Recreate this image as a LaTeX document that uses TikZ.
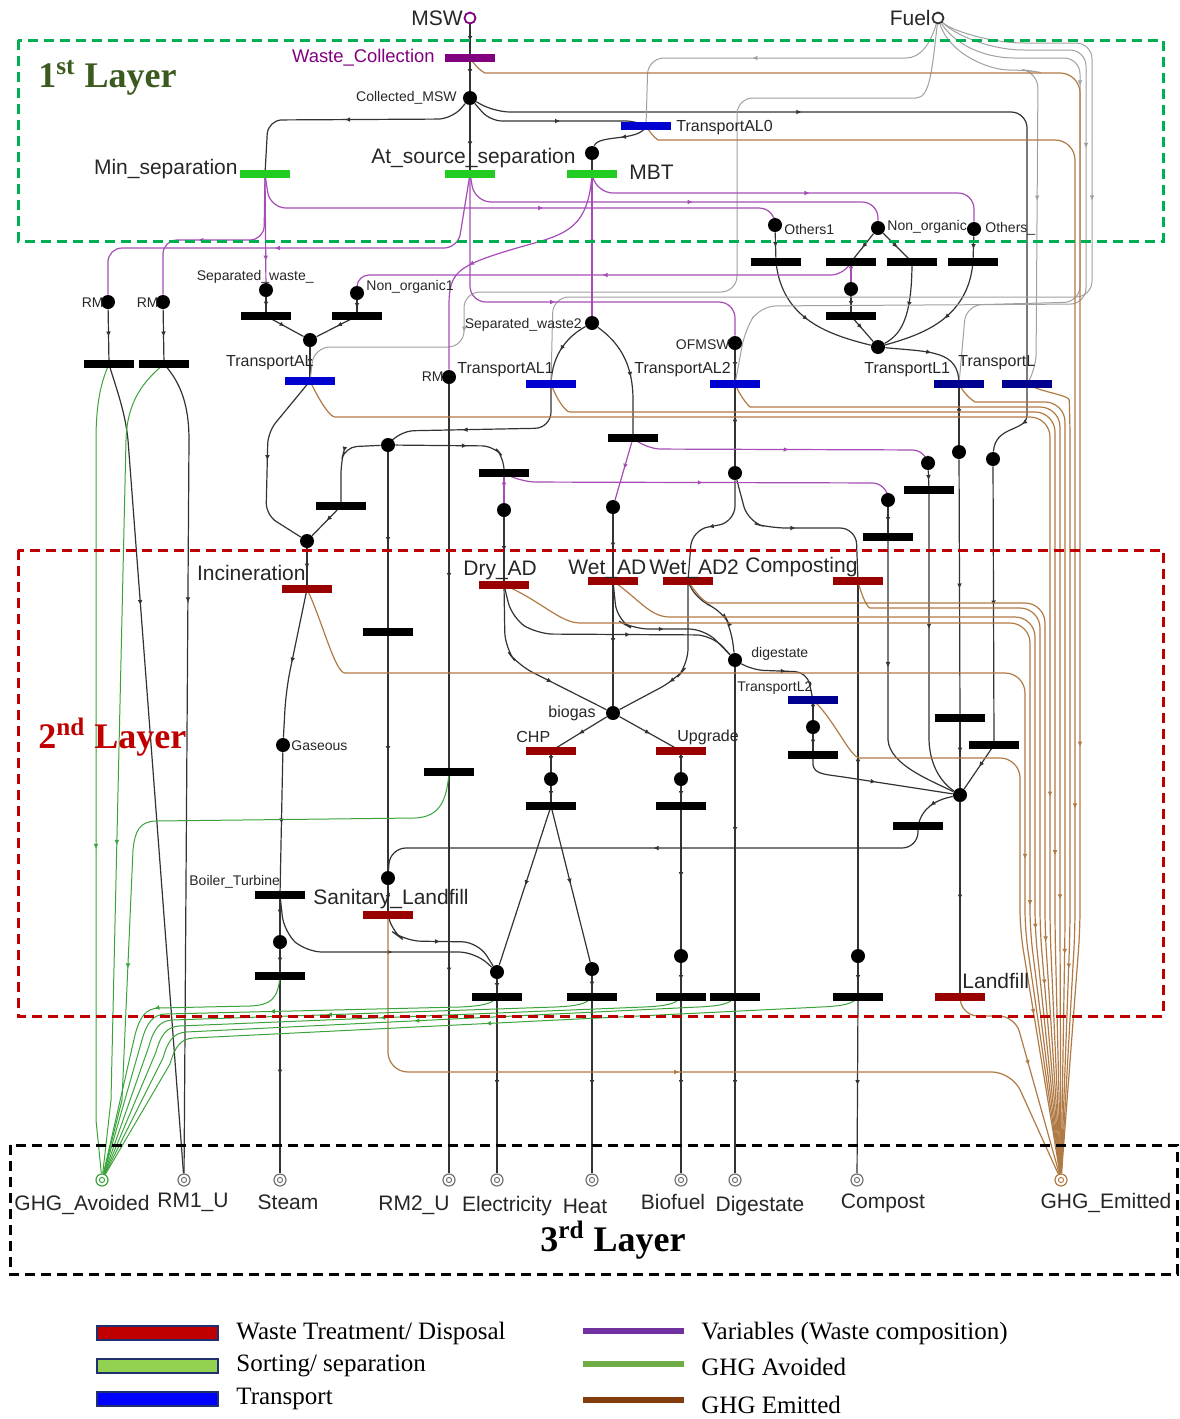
\documentclass[tikz,border=0pt]{standalone}
\usepackage{fontspec}
\setmainfont{Liberation Serif}
\setsansfont{Liberation Sans}
\usetikzlibrary{arrows.meta,decorations.markings,backgrounds}

\definecolor{pnblack}{HTML}{333333}
\definecolor{pnpurple}{HTML}{A54DB5}
\definecolor{wcpurple}{HTML}{800080}
\definecolor{sepgreen}{HTML}{22CC22}
\definecolor{trblue}{HTML}{0000D0}
\definecolor{trnavy}{HTML}{000090}
\definecolor{treat}{HTML}{990000}
\definecolor{fuelgray}{HTML}{A0A0A0}
\definecolor{emit}{HTML}{B07A45}
\definecolor{avoid}{HTML}{3BA33B}
\definecolor{sinkgray}{HTML}{707070}
\definecolor{boxgreen}{HTML}{00B050}
\definecolor{boxred}{HTML}{C00000}
\definecolor{layergreen}{HTML}{3A5A1E}
\definecolor{legred}{HTML}{C00000}
\definecolor{legborder}{HTML}{1F2F6F}
\definecolor{leggreen}{HTML}{92D050}
\definecolor{legblue}{HTML}{0000FF}
\definecolor{legpurple}{HTML}{7030A0}
\definecolor{legline}{HTML}{70AD47}
\definecolor{legbrown}{HTML}{843C0C}

\tikzset{
  place/.style={circle, fill=black, inner sep=0pt, minimum size=7pt},
  bar/.style={rectangle, fill=#1, inner sep=0pt, minimum width=25pt, minimum height=3.6pt},
  bar/.default=black,
  src/.style={circle, draw=#1, fill=white, line width=0.9pt, inner sep=0pt, minimum size=5.5pt},
  sink/.style={circle, draw=#1, line width=0.6pt, inner sep=0pt, minimum size=6pt,
    path picture={\draw[#1,line width=0.5pt] (path picture bounding box.center) circle (1.3pt);}},
  mk/.style={postaction={decorate,decoration={markings,
    mark=at position #1 with {\arrow{Latex[length=2.6pt,width=2.4pt]}}}}},
  mk/.default=0.5,
  bk/.style={draw=pnblack, line width=0.6pt},
  pu/.style={draw=pnpurple, line width=0.6pt},
  gy/.style={draw=fuelgray, line width=0.5pt},
  br/.style={draw=emit, line width=0.6pt},
  gr/.style={draw=avoid, line width=0.5pt},
  lS/.style={font=\sffamily\fontsize{7}{8}\selectfont, inner sep=0pt, text=black!85},
  lM/.style={font=\sffamily\fontsize{8}{9}\selectfont, inner sep=0pt, text=black!85},
  lL/.style={font=\sffamily\fontsize{10.5}{12}\selectfont, inner sep=0pt, text=black!85},
  layerbox/.style={line width=1.5pt, dash pattern=on 5pt off 3pt},
  layertxt/.style={font=\rmfamily\bfseries\fontsize{18}{20}\selectfont, inner sep=0pt},
  legtxt/.style={font=\rmfamily\fontsize{12.5}{14}\selectfont, inner sep=0pt, anchor=west}
}

\begin{document}
\begin{tikzpicture}[x=0.5pt,y=-0.5pt]
\useasboundingbox (0,0) rectangle (1179,1419);

% ---------- sources ----------
\node[src=wcpurple] (msw) at (470,18) {};
\node[src=pnblack] (fuel) at (938,18) {};

% ---------- first layer ----------
\node[bar=wcpurple] (wc) at (470,58) {};
\node[place] (cmsw) at (470,98) {};
\node[bar=trblue] (tal0) at (646,126) {};
\node[place] (pmbt) at (592,153) {};
\node[bar=sepgreen] (minsep) at (265,174) {};
\node[bar=sepgreen] (atsrc) at (470,174) {};
\node[bar=sepgreen] (mbt) at (592,174) {};
\node[place] (oth1) at (775,225) {};
\node[place] (nonorg) at (878,228) {};
\node[place] (oths) at (974,229) {};

% ---------- between first and second layer ----------
\node[bar] (t1) at (776,262) {};
\node[bar] (t2) at (851,262) {};
\node[bar] (t3) at (912,262) {};
\node[bar] (t4) at (973,262) {};
\node[place] (p5) at (851,289) {};
\node[bar] (t5) at (851,316) {};
\node[place] (rma) at (108,302) {};
\node[place] (rmb) at (163,302) {};
\node[place] (sepw) at (266,290) {};
\node[place] (nonorg1) at (357,293) {};
\node[bar] (t6) at (266,316) {};
\node[bar] (t7) at (357,316) {};
\node[place] (sepw2) at (592,323) {};
\node[place] (ofmsw) at (735,343) {};
\node[place] (jal) at (310,340) {};
\node[bar=trblue] (tal) at (310,381) {};
\node[place] (rmc) at (449,377) {};
\node[bar=trblue] (tal1) at (551,384) {};
\node[bar=trblue] (tal2) at (735,384) {};
\node[place] (jl1) at (878,347) {};
\node[bar=trnavy] (tl1) at (959,384) {};
\node[bar=trnavy] (tl) at (1027,384) {};
\node[bar] (rmta) at (109,364) {};
\node[bar] (rmtb) at (164,364) {};
\node[place] (p388) at (388,445) {};
\node[bar] (t341) at (341,506) {};
\node[bar] (t504) at (504,473) {};
\node[bar] (t633) at (633,438) {};
\node[place] (p735) at (735,473) {};
\node[place] (p928) at (928,463) {};
\node[place] (p959) at (959,452) {};
\node[place] (p993) at (993,459) {};
\node[bar] (t929) at (929,490) {};
\node[place] (p504) at (504,510) {};
\node[place] (p613) at (613,507) {};
\node[place] (p888) at (888,500) {};
\node[bar] (t888) at (888,537) {};
\node[place] (pinc) at (307,541) {};

% ---------- second layer ----------
\node[bar] (t388) at (388,632) {};
\node[bar=treat] (inc) at (307,589) {};
\node[bar=treat] (dry) at (504,585) {};
\node[bar=treat] (wet) at (613,581) {};
\node[bar=treat] (wet2) at (688,581) {};
\node[bar=treat] (comp) at (858,581) {};
\node[place] (dig) at (735,660) {};
\node[bar=trnavy] (tl2) at (813,700) {};
\node[place] (bio) at (613,713) {};
\node[bar=treat] (chp) at (551,751) {};
\node[bar=treat] (upg) at (681,751) {};
\node[place] (pchp) at (551,779) {};
\node[place] (pupg) at (681,779) {};
\node[bar] (tchp) at (551,806) {};
\node[bar] (tupg) at (681,806) {};
\node[place] (pl2) at (813,727) {};
\node[bar] (tpl2) at (813,755) {};
\node[bar] (t960) at (960,718) {};
\node[bar] (t994) at (994,745) {};
\node[place] (jlf) at (960,795) {};
\node[bar] (t918) at (918,826) {};
\node[place] (gas) at (283,745) {};
\node[bar] (t449) at (449,772) {};
\node[place] (psl) at (388,878) {};
\node[bar] (boil) at (280,895) {};
\node[bar=treat] (sl) at (388,915) {};
\node[place] (pst) at (280,942) {};
\node[bar] (tst) at (280,976) {};
\node[place] (pel) at (497,972) {};
\node[place] (pht) at (592,969) {};
\node[place] (pbf) at (681,956) {};
\node[place] (pcp) at (858,956) {};
\node[bar] (tel) at (497,997) {};
\node[bar] (tht) at (592,997) {};
\node[bar] (tbf) at (681,997) {};
\node[bar] (tdg) at (735,997) {};
\node[bar] (tcp) at (858,997) {};
\node[bar=treat] (lf) at (960,997) {};

% ---------- third layer (sinks) ----------
\node[sink=avoid] (ghga) at (102,1180) {};
\node[sink=sinkgray] (rm1u) at (184,1180) {};
\node[sink=sinkgray] (steam) at (280,1180) {};
\node[sink=sinkgray] (rm2u) at (449,1180) {};
\node[sink=sinkgray] (elec) at (497,1180) {};
\node[sink=sinkgray] (heat) at (592,1180) {};
\node[sink=sinkgray] (biof) at (681,1180) {};
\node[sink=sinkgray] (dgs) at (735,1180) {};
\node[sink=sinkgray] (cmp) at (857,1180) {};
\node[sink=emit] (ghge) at (1061,1180) {};

\begin{scope}[on background layer]
% ----- material flows -----
\draw[bk,mk] (msw) -- (wc.center);
\draw[bk,mk] (wc.center) -- (cmsw);
\draw[bk,mk=0.6] (cmsw) -- (atsrc.center);
\draw[bk,mk,rounded corners=7pt] (cmsw) -- (452,119) -- (268,120) -- (minsep.center);
\draw[bk,mk,rounded corners=6pt] (cmsw) -- (490,121) -- (638,121) -- (tal0.center);
\draw[bk,mk=0.4,rounded corners=8pt] (cmsw) -- (494,112) -- (1027,112) -- (tl.center);
\draw[bk,mk] (tal0.center) .. controls (640,142) and (598,134) .. (pmbt);
\draw[bk] (pmbt) -- (mbt.center);
\draw[bk,mk] (oth1) -- (t1.center);
\draw[bk,mk] (nonorg) -- (t2.center);
\draw[bk,mk] (nonorg) -- (t3.center);
\draw[bk,mk] (oths) -- (t4.center);
\draw[bk,mk] (p5) -- (t5.center);
\draw[bk,mk] (t1.center) .. controls (782,320) and (830,335) .. (jl1);
\draw[bk,mk] (t5.center) -- (jl1);
\draw[bk,mk] (t3.center) .. controls (912,320) and (900,335) .. (jl1);
\draw[bk,mk] (t4.center) .. controls (968,320) and (920,335) .. (jl1);
\draw[bk,mk] (jl1) .. controls (930,352) and (959,350) .. (tl1.center);
\draw[bk,mk] (tl1.center) -- (p959);
\draw[bk,mk] (p959) -- (t960.center);
\draw[bk,mk] (t960.center) -- (jlf);
\draw[bk,mk] (jlf) -- (lf.center);
\draw[bk,mk] (tl.center) -- (1027,415) .. controls (1027,432) and (995,425) .. (p993);
\draw[bk,mk] (p993) -- (t994.center);
\draw[bk,mk] (t994.center) -- (jlf);
\draw[bk,mk] (p928) -- (t929.center);
\draw[bk,mk=0.45] (t929.center) -- (929,740) .. controls (930,770) and (945,785) .. (jlf);
\draw[bk,mk] (p888) -- (t888.center);
\draw[bk,mk=0.45] (t888.center) -- (888,740) .. controls (890,765) and (930,780) .. (jlf);
\draw[bk,mk] (pl2) -- (tpl2.center);
\draw[bk,mk] (tpl2.center) -- (813,765) .. controls (815,775) and (825,774) .. (850,778) -- (jlf);
\draw[bk,mk] (jlf) .. controls (935,800) and (922,808) .. (t918.center);
\draw[bk,mk,rounded corners=8pt] (t918.center) -- (918,848) -- (390,848) -- (psl);

\draw[bk,mk] (sepw) -- (t6.center);
\draw[bk,mk] (nonorg1) -- (t7.center);
\draw[bk,mk] (t6.center) -- (jal);
\draw[bk,mk] (t7.center) -- (jal);
\draw[bk,mk] (jal) -- (tal.center);
\draw[bk,mk,rounded corners=6pt] (tal.center) -- (268,432) -- (266,515) -- (pinc);
\draw[bk,mk,rounded corners=6pt] (p388) -- (345,447) -- (341,462) -- (t341.center);
\draw[bk,mk] (t341.center) -- (pinc);
\draw[bk,mk] (pinc) -- (inc.center);
\draw[bk,mk,rounded corners=10pt] (inc.center) -- (286,690) -- (gas);
\draw[bk,mk] (gas) -- (boil.center);
\draw[bk,mk] (boil.center) -- (pst);
\draw[bk,mk] (pst) -- (tst.center);
\draw[bk,mk] (tst.center) -- (steam);
\draw[bk,mk=0.6,rounded corners=8pt] (boil.center) -- (284,932) -- (306,952) -- (475,952) -- (pel);
\draw[bk,mk=0.6,rounded corners=8pt] (sl.center) -- (390,930) -- (405,941) -- (478,942) -- (pel);
\draw[bk,mk] (psl) -- (sl.center);
\draw[bk,mk] (p388) -- (t388.center);
\draw[bk,mk] (t388.center) -- (psl);
\draw[bk,mk,rounded corners=6pt] (p388) -- (494,446) -- (504,458) -- (t504.center);
\draw[bk,mk=0.6,rounded corners=8pt] (tal1.center) -- (551,428) -- (398,431) -- (p388);
\draw[bk,mk] (sepw2) .. controls (570,335) and (552,352) .. (tal1.center);
\draw[bk,mk] (sepw2) .. controls (618,342) and (633,362) .. (633,400) -- (t633.center);
\draw[bk,mk] (ofmsw) -- (tal2.center);
\draw[bk,mk] (tal2.center) -- (p735);
\draw[bk,mk,rounded corners=8pt] (p735) -- (735,522) -- (692,530) -- (wet2.center);
\draw[bk,mk,rounded corners=8pt] (p735) -- (748,522) -- (770,528) -- (856,528) -- (comp.center);
\draw[bk,mk] (p504) -- (dry.center);
\draw[bk,mk] (p613) -- (wet.center);
\draw[bk,mk=0.7,rounded corners=8pt] (dry.center) -- (505,648) -- (518,665) -- (bio);
\draw[bk,mk] (wet.center) -- (bio);
\draw[bk,mk=0.7,rounded corners=8pt] (wet2.center) -- (688,665) -- (675,680) -- (bio);
\draw[bk,mk=0.6,rounded corners=8pt] (dry.center) -- (512,618) -- (537,634) -- (712,635) -- (dig);
\draw[bk,mk=0.6,rounded corners=8pt] (wet.center) -- (617,620) -- (633,629) -- (705,629) -- (dig);
\draw[bk,mk=0.6,rounded corners=8pt] (wet2.center) -- (696,600) -- (722,610) -- (731,628) -- (dig);
\draw[bk,mk,rounded corners=6pt] (dig) -- (752,670) -- (807,672) -- (tl2.center);
\draw[bk,mk] (tl2.center) -- (pl2);
\draw[bk,mk] (dig) -- (tdg.center);
\draw[bk,mk] (bio) -- (chp.center);
\draw[bk,mk] (bio) -- (upg.center);
\draw[bk,mk] (chp.center) -- (pchp);
\draw[bk,mk] (pchp) -- (tchp.center);
\draw[bk,mk] (upg.center) -- (pupg);
\draw[bk,mk] (pupg) -- (tupg.center);
\draw[bk,mk] (tupg.center) -- (pbf);
\draw[bk,mk] (pbf) -- (tbf.center);
\draw[bk,mk] (tchp.center) -- (pel);
\draw[bk,mk] (tchp.center) -- (pht);
\draw[bk,mk] (pel) -- (tel.center);
\draw[bk,mk] (pht) -- (tht.center);
\draw[bk,mk] (comp.center) -- (pcp);
\draw[bk,mk] (pcp) -- (tcp.center);
\draw[bk,mk] (rmc) -- (t449.center);
\draw[bk,mk] (t449.center) -- (rm2u);
\draw[bk,mk] (tel.center) -- (elec);
\draw[bk,mk] (tht.center) -- (heat);
\draw[bk,mk] (tbf.center) -- (biof);
\draw[bk,mk] (tdg.center) -- (dgs);
\draw[bk,mk] (tcp.center) -- (cmp);
\draw[bk,mk] (rma) -- (rmta.center);
\draw[bk,mk] (rmb) -- (rmtb.center);
\draw[bk,mk=0.3] (rmta.center) .. controls (115,385) and (125,410) .. (128,440) -- (rm1u);
\draw[bk,mk=0.3] (rmtb.center) .. controls (178,380) and (189,400) .. (189,440) -- (rm1u);

% ----- fuel supply to the transport steps -----
\draw[gy,mk=0.55,rounded corners=8pt] (fuel) .. controls (930,45) and (920,58) .. (890,58) -- (648,58) -- (tal0.center);
\draw[gy,mk=0.8,rounded corners=8pt] (fuel) .. controls (932,70) and (930,98) .. (900,98) -- (737,98) -- (737,292) -- (464,292) -- (464,347) -- (314,347) -- (tal.center);
\draw[gy,mk=0.3,rounded corners=8pt] (fuel) .. controls (950,30) and (990,43) .. (1040,43) -- (1092,43) -- (1092,297) -- (553,297) -- (tal1.center);
\draw[gy,mk=0.3,rounded corners=8pt] (fuel) .. controls (955,35) and (990,50) .. (1040,50) -- (1086,50) -- (1086,304) -- (760,306) -- (745,330) -- (tal2.center);
\draw[gy,mk=0.3,rounded corners=8pt] (fuel) .. controls (955,45) and (985,58) .. (1030,58) -- (1080,58) -- (1080,302) -- (966,305) -- (tl1.center);
\draw[gy,mk=0.6,rounded corners=8pt] (fuel) .. controls (950,55) and (990,70) .. (1025,70) -- (1038,72) -- (1036,370) -- (tl.center);

% ----- waste composition variables -----
\draw[pu,mk=0.6,rounded corners=7pt] (minsep.center) -- (264,240) -- (163,240) -- (rmb);
\draw[pu,mk=0.55,rounded corners=7pt] (atsrc.center) -- (458,248) -- (108,248) -- (rma);
\draw[pu,mk=0.8] (minsep.center) -- (sepw);
\draw[pu,mk=0.55,rounded corners=8pt] (minsep.center) -- (270,208) -- (775,208) -- (oth1);
\draw[pu,mk=0.55,rounded corners=8pt] (atsrc.center) -- (475,202) -- (878,202) -- (nonorg);
\draw[pu,mk=0.55,rounded corners=8pt] (mbt.center) -- (597,193) -- (974,193) -- (oths);
\draw[pu,mk=0.5,rounded corners=8pt] (atsrc.center) -- (470,302) -- (735,302) -- (ofmsw);
\draw[pu,mk=0.6] (mbt.center) .. controls (588,235) and (560,235) .. (510,250) .. controls (458,266) and (449,272) .. (449,305) -- (rmc);
\draw[pu,mk=0.5] (mbt.center) -- (sepw2);
\draw[pu,mk=0.5,rounded corners=6pt] (t2.center) -- (843,275) -- (357,275) -- (nonorg1);
\draw[pu,mk] (t2.center) -- (p5);
\draw[pu,mk=0.5,rounded corners=8pt] (t633.center) -- (645,449) -- (928,450) -- (p928);
\draw[pu,mk] (t633.center) -- (p613);
\draw[pu,mk=0.5,rounded corners=8pt] (t504.center) -- (520,482) -- (888,483) -- (p888);
\draw[pu,mk] (t504.center) -- (p504);

% ----- emitted GHG -----
\draw[br,mk=0.75,rounded corners=10pt] (wc.center) .. controls (478,70) and (485,73) .. (505,73) -- (1080,73) -- (1080,930) -- (ghge);
\draw[br,mk=0.75,rounded corners=10pt] (tal0.center) .. controls (652,136) and (658,140) .. (678,140) -- (1075,140) -- (1075,930) -- (ghge);
\draw[br,mk=0.75,rounded corners=10pt] (tl.center) .. controls (1040,392) and (1069,395) .. (1070,420) -- (1070,930) -- (ghge);
\draw[br,mk=0.75,rounded corners=10pt] (tl1.center) .. controls (965,396) and (975,402) .. (995,402) -- (1065,402) -- (1065,930) -- (ghge);
\draw[br,mk=0.75,rounded corners=10pt] (tal2.center) .. controls (742,400) and (750,407) .. (770,407) -- (1060,407) -- (1060,930) -- (ghge);
\draw[br,mk=0.75,rounded corners=10pt] (tal1.center) .. controls (558,402) and (566,412) .. (590,412) -- (1055,412) -- (1055,930) -- (ghge);
\draw[br,mk=0.75,rounded corners=10pt] (tal.center) .. controls (320,402) and (330,417) .. (355,417) -- (1050,417) -- (1050,930) -- (ghge);
\draw[br,mk=0.75,rounded corners=10pt] (wet2.center) .. controls (698,596) and (705,603) .. (730,603) -- (1045,603) -- (1045,930) -- (ghge);
\draw[br,mk=0.75,rounded corners=10pt] (comp.center) .. controls (862,598) and (868,608) .. (890,608) -- (1040,608) -- (1040,930) -- (ghge);
\draw[br,mk=0.75,rounded corners=10pt] (wet.center) .. controls (640,600) and (650,617) .. (690,617) -- (1035,617) -- (1035,930) -- (ghge);
\draw[br,mk=0.75,rounded corners=10pt] (dry.center) .. controls (540,600) and (560,623) .. (600,623) -- (1030,623) -- (1030,930) -- (ghge);
\draw[br,mk=0.75,rounded corners=10pt] (inc.center) .. controls (322,620) and (335,673) .. (365,673) -- (1025,673) -- (1025,930) -- (ghge);
\draw[br,mk=0.75,rounded corners=10pt] (tl2.center) .. controls (835,720) and (850,758) .. (880,758) -- (1020,758) -- (1020,930) -- (ghge);
\draw[br,mk=0.5,rounded corners=8pt] (lf.center) -- (962,1016) -- (1015,1016) -- (ghge);
\draw[br,mk=0.5,rounded corners=10pt] (sl.center) -- (388,1072) -- (1012,1072) -- (ghge);

% ----- avoided GHG -----
\draw[gr,mk=0.6] (rmta.center) .. controls (102,380) and (96,400) .. (96,440) -- (96,1120) -- (ghga);
\draw[gr,mk=0.6] (rmtb.center) .. controls (145,380) and (127,400) .. (126,440) -- (111,1100) -- (ghga);
\draw[gr,mk=0.7] (t449.center) .. controls (447,800) and (440,817) .. (415,818) -- (155,821) .. controls (140,822) and (135,830) .. (133,850) -- (122,1100) -- (ghga);
\draw[gr,mk=0.45] (tst.center) .. controls (278,1000) and (270,1005) .. (250,1006) -- (158,1008) .. controls (146,1009) and (140,1016) .. (135,1035) -- (ghga);
\draw[gr,mk=0.45] (tel.center) .. controls (492,1004) and (482,1006) .. (460,1007) -- (165,1014) .. controls (153,1015) and (147,1022) .. (142,1040) -- (ghga);
\draw[gr,mk=0.45] (tht.center) .. controls (587,1004) and (577,1006) .. (555,1007) -- (172,1020) .. controls (160,1021) and (154,1028) .. (149,1046) -- (ghga);
\draw[gr,mk=0.45] (tbf.center) .. controls (676,1004) and (666,1006) .. (644,1007) -- (179,1026) .. controls (167,1027) and (161,1034) .. (156,1052) -- (ghga);
\draw[gr,mk=0.45] (tdg.center) .. controls (730,1004) and (720,1006) .. (698,1007) -- (186,1032) .. controls (174,1033) and (168,1040) .. (163,1058) -- (ghga);
\draw[gr,mk=0.45] (tcp.center) .. controls (853,1004) and (843,1006) .. (821,1007) -- (193,1038) .. controls (181,1039) and (175,1046) .. (170,1064) -- (ghga);
\end{scope}

% ---------- labels ----------
\node[lL,anchor=east] at (463,18) {MSW};
\node[lL,anchor=east] at (931,18) {Fuel};
\node[font=\sffamily\fontsize{9.2}{10}\selectfont, inner sep=0pt, text=wcpurple, anchor=east] at (435,58) {Waste\_Collection};
\node[lS,anchor=east] at (457,98) {Collected\_MSW};
\node[lL,anchor=east] at (238,169) {Min\_separation};
\node[lL,anchor=east] at (576,158) {At\_source\_separation};
\node[lL,anchor=west] at (629,172) {MBT};
\node[lM,anchor=west] at (676,128) {TransportAL0};
\node[lS,anchor=west] at (784,229) {Others1};
\node[lS,anchor=west] at (887,227) {Non\_organic};
\node[lS,anchor=west] at (985,229) {Others\_};
\node[lS,anchor=east] at (104,303) {RM};
\node[lS,anchor=east] at (159,303) {RM};
\node[lS,anchor=east] at (314,277) {Separated\_waste\_};
\node[lS,anchor=west] at (366,287) {Non\_organic1};
\node[lM,anchor=east] at (314,363) {TransportAL};
\node[lS,anchor=east] at (582,325) {Separated\_waste2};
\node[lS,anchor=east] at (730,345) {OFMSW};
\node[lS,anchor=east] at (444,377) {RM};
\node[lM,anchor=west] at (457,370) {TransportAL1};
\node[lM,anchor=west] at (634,370) {TransportAL2};
\node[lM,anchor=west] at (864,370) {TransportL1};
\node[lM,anchor=west] at (958,363) {TransportL};
\node[lL,anchor=east] at (306,573) {Incineration};
\node[lL,anchor=west] at (463,570) {Dry\_AD};
\node[lL,anchor=west] at (568,569) {Wet\_AD};
\node[lL,anchor=west] at (649,569) {Wet\_AD2};
\node[lL,anchor=west] at (745,567) {Composting};
\node[lS,anchor=west] at (751,654) {digestate};
\node[lS,anchor=west] at (737,688) {TransportL2};
\node[lM,anchor=east] at (596,713) {biogas};
\node[lM,anchor=west] at (516,737) {CHP};
\node[lM,anchor=west] at (677,737) {Upgrade};
\node[lS,anchor=west] at (291,746) {Gaseous};
\node[lS,anchor=west] at (189,882) {Boiler\_Turbine};
\node[lL,anchor=west] at (313,899) {Sanitary\_Landfill};
\node[lL,anchor=west] at (962,981) {Landfill};
\node[lL] at (82,1205) {GHG\_Avoided};
\node[lL] at (193,1202) {RM1\_U};
\node[lL] at (288,1202) {Steam};
\node[lL] at (414,1205) {RM2\_U};
\node[lL] at (507,1206) {Electricity};
\node[lL] at (585,1206) {Heat};
\node[lL] at (673,1202) {Biofuel};
\node[lL] at (760,1206) {Digestate};
\node[lL] at (883,1203) {Compost};
\node[lL] at (1106,1203) {GHG\_Emitted};

% ---------- layer frames ----------
\draw[boxgreen,layerbox] (18,40) rectangle (1163,241);
\draw[boxred,layerbox] (18,550) rectangle (1163,1016);
\draw[black,layerbox] (10,1145) rectangle (1177,1274);
\node[layertxt,text=layergreen,anchor=west] at (38,78) {1\textsuperscript{st} Layer};
\node[layertxt,text=boxred,anchor=west] at (38,737) {2\textsuperscript{nd} Layer};
\node[layertxt,text=black] at (613,1240) {3\textsuperscript{rd} Layer};

% ---------- legend ----------
\draw[fill=legred,draw=legborder,line width=1.2pt] (97,1326) rectangle (218,1340);
\draw[fill=leggreen,draw=legborder,line width=1.2pt] (97,1359) rectangle (218,1373);
\draw[fill=legblue,draw=legborder,line width=1.2pt] (97,1392) rectangle (218,1406);
\node[legtxt] at (236,1333) {Waste Treatment/ Disposal};
\node[legtxt] at (236,1366) {Sorting/ separation};
\node[legtxt] at (236,1399) {Transport};
\draw[legpurple,line width=3pt] (583,1331) -- (684,1331);
\draw[legline,line width=3pt] (583,1364) -- (684,1364);
\draw[legbrown,line width=3pt] (583,1400) -- (684,1400);
\node[legtxt] at (701,1333) {Variables (Waste composition)};
\node[legtxt] at (701,1367) {GHG Avoided};
\node[legtxt] at (701,1405) {GHG Emitted};
\end{tikzpicture}
\end{document}
